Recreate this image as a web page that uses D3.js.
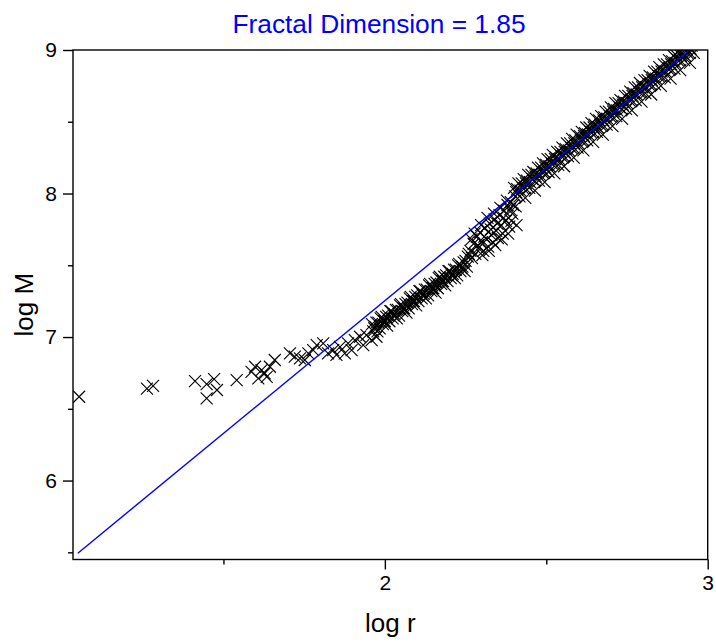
<!DOCTYPE html>
<html>
<head>
<meta charset="utf-8">
<script src="https://cdn.jsdelivr.net/npm/d3@7"></script>
<style>
  body { margin: 0; background: #fff; }
  text { font-family: Arial, "Liberation Sans", sans-serif; }
</style>
</head>
<body>
<div id="chart"></div>
<script>

// [log r, log M], in four stretches of the curve
var tail = [
  [1.053,6.584],[1.263,6.641],[1.282,6.659],[1.412,6.693],[1.448,6.672],[1.471,6.707],
  [1.480,6.631],[1.448,6.573],[1.541,6.700],[1.587,6.758],[1.598,6.793],[1.618,6.770],
  [1.608,6.712],[1.628,6.747],[1.634,6.723],[1.644,6.793],[1.659,6.840],[1.706,6.886],
  [1.721,6.863],[1.737,6.852],[1.752,6.840],[1.763,6.886],[1.778,6.909],[1.789,6.944],
  [1.809,6.956],[1.824,6.886],[1.840,6.909],[1.850,6.875],[1.861,6.932],[1.876,6.886],
  [1.886,6.956],[1.897,6.909],[1.907,6.979],[1.923,7.002],[1.933,6.944],[1.943,7.014],
  [1.959,6.979],[1.974,7.002]
];

var band = [
  [1.960,7.09],[1.964,7.04],[1.967,7.06],
  [1.970,7.07],[1.974,7.10],[1.977,7.04],
  [1.980,7.10],[1.984,7.06],[1.987,7.13],
  [1.990,7.14],[1.994,7.09],[1.997,7.11],
  [2.000,7.11],[2.004,7.14],[2.007,7.08],
  [2.010,7.15],[2.014,7.11],[2.017,7.18],
  [2.020,7.18],[2.024,7.13],[2.027,7.15],
  [2.030,7.16],[2.034,7.19],[2.037,7.13],
  [2.040,7.19],[2.044,7.15],[2.047,7.22],
  [2.050,7.23],[2.054,7.18],[2.057,7.20],
  [2.060,7.20],[2.064,7.23],[2.067,7.17],
  [2.070,7.24],[2.074,7.20],[2.077,7.27],
  [2.080,7.28],[2.084,7.23],[2.087,7.25],
  [2.090,7.25],[2.094,7.28],[2.097,7.22],
  [2.100,7.29],[2.104,7.25],[2.107,7.32],
  [2.110,7.32],[2.114,7.27],[2.117,7.29],
  [2.120,7.30],[2.124,7.33],[2.127,7.27],
  [2.130,7.33],[2.134,7.29],[2.137,7.36],
  [2.140,7.37],[2.144,7.32],[2.147,7.34],
  [2.150,7.34],[2.154,7.37],[2.157,7.31],
  [2.160,7.38],[2.164,7.34],[2.167,7.41],
  [2.170,7.42],[2.174,7.37],[2.177,7.39],
  [2.180,7.39],[2.184,7.42],[2.187,7.36],
  [2.190,7.43],[2.194,7.39],[2.197,7.46],
  [2.200,7.46],[2.204,7.41],[2.207,7.43],
  [2.210,7.44],[2.214,7.47],[2.217,7.41],
  [2.220,7.47],[2.224,7.43],[2.227,7.50],
  [2.230,7.51],[2.234,7.46],[2.237,7.48],
  [2.240,7.49],[2.244,7.52],[2.247,7.46],
  [2.250,7.53],[2.254,7.49],[2.257,7.56]
];

var cluster = [
  [2.260,7.58],[2.265,7.60],[2.270,7.55],[2.275,7.65],[2.280,7.58],[2.285,7.70],
  [2.290,7.62],[2.295,7.73],[2.300,7.66],[2.305,7.60],[2.310,7.76],[2.315,7.68],
  [2.320,7.63],[2.325,7.79],[2.330,7.71],[2.335,7.66],[2.340,7.82],[2.345,7.74],
  [2.350,7.69],[2.355,7.85],[2.360,7.78],[2.365,7.72],[2.370,7.88],[2.375,7.81],
  [2.380,7.92],[2.385,7.77],[2.390,7.94],[2.395,7.86],[2.408,7.78],
  [2.268,7.68],[2.278,7.72],[2.288,7.64],[2.298,7.78],[2.308,7.70],[2.318,7.83],
  [2.328,7.75],[2.338,7.86],[2.348,7.79],[2.358,7.90],[2.368,7.83],[2.378,7.95],
  [2.388,7.89],[2.398,7.92],[2.302,7.57],[2.322,7.60],[2.342,7.64],[2.362,7.68],
  [2.382,7.72],[2.392,7.81]
];

var upper = [
  [2.400,8.04],[2.404,7.98],[2.407,8.01],[2.405,7.91],
  [2.410,8.03],[2.414,8.07],[2.417,7.98],
  [2.420,8.02],[2.424,8.07],[2.427,8.04],
  [2.430,8.10],[2.434,8.04],[2.437,8.07],[2.435,7.97],
  [2.440,8.09],[2.444,8.13],[2.447,8.04],
  [2.450,8.08],[2.454,8.13],[2.457,8.10],
  [2.460,8.15],[2.464,8.09],[2.467,8.12],[2.465,8.02],
  [2.470,8.14],[2.474,8.18],[2.477,8.09],
  [2.480,8.13],[2.484,8.18],[2.487,8.15],
  [2.490,8.21],[2.494,8.15],[2.497,8.18],[2.495,8.08],
  [2.500,8.20],[2.504,8.24],[2.507,8.15],
  [2.510,8.19],[2.514,8.24],[2.517,8.21],
  [2.520,8.27],[2.524,8.21],[2.527,8.24],[2.525,8.14],
  [2.530,8.25],[2.534,8.29],[2.537,8.20],
  [2.540,8.24],[2.544,8.29],[2.547,8.26],
  [2.550,8.32],[2.554,8.26],[2.557,8.29],[2.555,8.19],
  [2.560,8.31],[2.564,8.35],[2.567,8.26],
  [2.570,8.30],[2.574,8.35],[2.577,8.32],
  [2.580,8.38],[2.584,8.32],[2.587,8.35],[2.585,8.25],
  [2.590,8.37],[2.594,8.41],[2.597,8.32],
  [2.600,8.35],[2.604,8.40],[2.607,8.37],
  [2.610,8.43],[2.614,8.37],[2.617,8.40],[2.615,8.30],
  [2.620,8.42],[2.624,8.46],[2.627,8.37],
  [2.630,8.41],[2.634,8.46],[2.637,8.43],
  [2.640,8.49],[2.644,8.43],[2.647,8.46],[2.645,8.36],
  [2.650,8.48],[2.654,8.52],[2.657,8.43],
  [2.660,8.46],[2.664,8.51],[2.667,8.48],
  [2.670,8.54],[2.674,8.48],[2.677,8.51],[2.675,8.41],
  [2.680,8.53],[2.684,8.57],[2.687,8.48],
  [2.690,8.52],[2.694,8.57],[2.697,8.54],
  [2.700,8.60],[2.704,8.54],[2.707,8.57],[2.705,8.47],
  [2.710,8.59],[2.714,8.63],[2.717,8.54],
  [2.720,8.58],[2.724,8.63],[2.727,8.60],
  [2.730,8.65],[2.734,8.59],[2.737,8.62],[2.735,8.52],
  [2.740,8.64],[2.744,8.68],[2.747,8.59],
  [2.750,8.63],[2.754,8.68],[2.757,8.65],
  [2.760,8.71],[2.764,8.65],[2.767,8.68],[2.765,8.58],
  [2.770,8.70],[2.774,8.74],[2.777,8.65],
  [2.780,8.69],[2.784,8.74],[2.787,8.71],
  [2.790,8.77],[2.794,8.71],[2.797,8.74],[2.795,8.64],
  [2.800,8.75],[2.804,8.79],[2.807,8.70],
  [2.810,8.74],[2.814,8.79],[2.817,8.76],
  [2.820,8.82],[2.824,8.76],[2.827,8.79],[2.825,8.69],
  [2.830,8.81],[2.834,8.85],[2.837,8.76],
  [2.840,8.80],[2.844,8.85],[2.847,8.82],
  [2.850,8.88],[2.854,8.82],[2.857,8.85],[2.855,8.75],
  [2.860,8.86],[2.864,8.90],[2.867,8.81],
  [2.870,8.85],[2.874,8.90],[2.877,8.87],
  [2.880,8.93],[2.884,8.87],[2.887,8.90],[2.885,8.80],
  [2.890,8.92],[2.894,8.96],[2.897,8.87],
  [2.900,8.91],[2.904,8.96],[2.907,8.93],
  [2.910,8.99],[2.914,8.93],[2.917,8.96],[2.915,8.86],
  [2.920,8.98],[2.924,9.02],[2.927,8.93],
  [2.930,8.96],[2.934,9.01],[2.937,8.98],
  [2.940,9.04],[2.944,8.98],[2.947,9.01],[2.945,8.91],
  [2.950,9.03],[2.954,9.07],[2.957,8.98]
];

// fitted line, slope = fractal dimension
var fitR = [1.049, 2.944];
var fitM = [5.494, 9.0];

var xMajor = [2, 3];
var xMinor = [1.5, 2.5];
var yMajor = [6, 7, 8, 9];
var yMinor = [5.5, 6.5, 7.5, 8.5];

var margin = {top: 50, left: 73, bottom: 82.5, right: 8.3};
var width = 716 - margin.left - margin.right;
var height = 642 - margin.top - margin.bottom;

var svg = d3.select("#chart").append("svg")
  .attr("width", 716)
  .attr("height", 642);

var g = svg.append("g")
  .attr("transform", "translate(" + margin.left + "," + margin.top + ")");

var x = d3.scaleLinear().domain([1.034, 3]).range([0, width]);
var y = d3.scaleLinear().domain([5.45, 9]).range([height, 0]);

g.append("clipPath").attr("id", "plotclip")
  .append("rect").attr("width", width).attr("height", height);

var points = tail.concat(band, cluster, upper);

var plot = g.append("g").attr("clip-path", "url(#plotclip)");

plot.selectAll(".pt")
  .data(points)
  .enter().append("path")
  .attr("class", "pt")
  .attr("transform", d => "translate(" + x(d[0]) + "," + y(d[1]) + ")")
  .attr("d", "M-6,-6L6,6M-6,6L6,-6")
  .attr("fill", "none")
  .attr("stroke", "#000")
  .attr("stroke-width", 1.1);

plot.append("path")
  .datum(d3.zip(fitR, fitM))
  .attr("d", d3.line().x(d => x(d[0])).y(d => y(d[1])))
  .attr("fill", "none")
  .attr("stroke", "#0000ff")
  .attr("stroke-width", 1.4);

// frame
g.append("rect")
  .attr("width", width)
  .attr("height", height)
  .attr("fill", "none")
  .attr("stroke", "#000")
  .attr("stroke-width", 1.4);

function styleAxis(sel) {
  sel.select(".domain").remove();
  sel.selectAll("line").attr("stroke", "#000").attr("stroke-width", 1.4);
  sel.selectAll("text").attr("font-size", 21).attr("fill", "#000")
    .attr("font-family", "Arial, 'Liberation Sans', sans-serif");
}

g.append("g")
  .attr("transform", "translate(0," + height + ")")
  .call(d3.axisBottom(x).tickValues(xMajor).tickSize(10).tickPadding(6).tickFormat(d3.format("d")))
  .call(styleAxis);

g.append("g")
  .attr("transform", "translate(0," + height + ")")
  .call(d3.axisBottom(x).tickValues(xMinor).tickSize(5).tickFormat(""))
  .call(styleAxis);

g.append("g")
  .call(d3.axisLeft(y).tickValues(yMajor).tickSize(10).tickPadding(6).tickFormat(d3.format("d")))
  .call(styleAxis);

g.append("g")
  .call(d3.axisLeft(y).tickValues(yMinor).tickSize(5).tickFormat(""))
  .call(styleAxis);

svg.append("text")
  .attr("x", 379)
  .attr("y", 33)
  .attr("text-anchor", "middle")
  .attr("font-size", 26.3)
  .attr("fill", "#0000ff")
  .text("Fractal Dimension = 1.85");

svg.append("text")
  .attr("x", margin.left + width / 2)
  .attr("y", 632)
  .attr("text-anchor", "middle")
  .attr("font-size", 26)
  .attr("fill", "#000")
  .text("log r");

svg.append("text")
  .attr("transform", "translate(33," + (margin.top + height / 2) + ") rotate(-90)")
  .attr("text-anchor", "middle")
  .attr("font-size", 26)
  .attr("fill", "#000")
  .text("log M");

</script>
</body>
</html>
